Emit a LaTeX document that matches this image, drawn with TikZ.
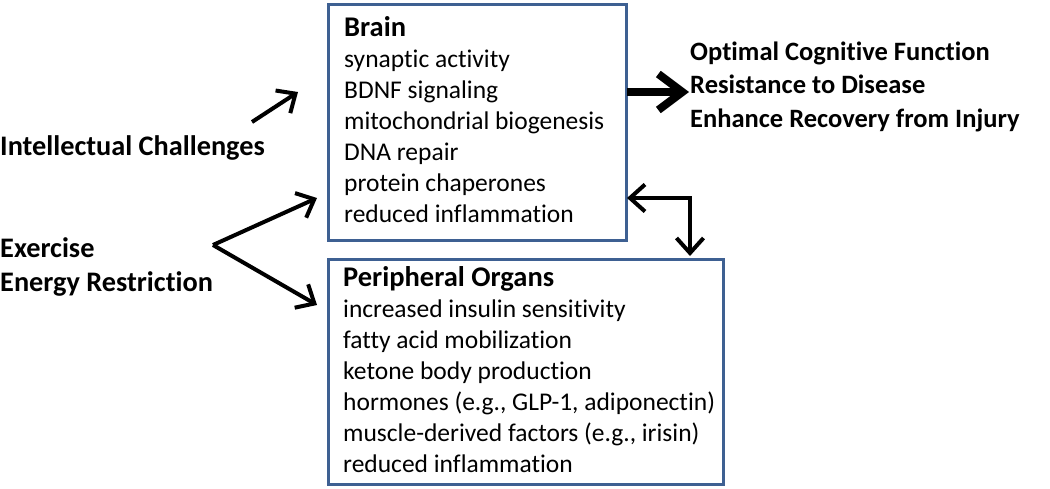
\documentclass[tikz,border=0pt]{standalone}
\usepackage{fontspec}
\setmainfont{Carlito}[Ligatures=NoCommon, RawFeature=-liga]
\usetikzlibrary{arrows.meta,positioning}
\definecolor{boxblue}{RGB}{62,96,146}

\begin{document}
\begin{tikzpicture}[x=1pt,y=-1pt,
  organbox/.style={draw=boxblue, line width=2.8pt, anchor=north west, inner sep=0pt},
  listtext/.style={anchor=base west, inner sep=0pt, align=left, font=\fontsize{25.5}{31}\selectfont},
  cuetext/.style={anchor=base west, inner sep=0pt, align=left, font=\fontsize{28.3}{33.5}\selectfont\bfseries},
  barb/.tip={Straight Barb[length=15pt,width=27pt]},
  thinarrow/.style={line width=4pt, -barb},
  thickarrow/.style={line width=8pt, -{Straight Barb[length=24pt,width=36pt]}}]
\useasboundingbox (0,0) rectangle (1050,488);

% the two boxes
\node[organbox, minimum width=298pt, minimum height=236pt] (brain) at (327,3) {};
\node[organbox, minimum width=395pt, minimum height=225pt] (periph) at (327,258) {};

% text lists (base = last line)
\node[listtext] (brainlist) at (344,222) {{\fontsize{28.5}{31}\selectfont\bfseries Brain}\\
synaptic activity\\
BDNF signaling\\
mitochondrial biogenesis\\
DNA repair\\
protein chaperones\\
reduced inflammation};

\node[listtext] (periphlist) at (343,472) {{\fontsize{28.5}{31}\selectfont\bfseries Peripheral Organs}\\
increased insulin sensitivity\\
fatty acid mobilization\\
ketone body production\\
hormones (e.g., GLP-1, adiponectin)\\
muscle-derived factors (e.g., irisin)\\
reduced inflammation};

% inputs on the left
\node[cuetext] (intel) at (0,155) {Intellectual Challenges};
\node[cuetext] (exer) at (0,291) {Exercise\\Energy Restriction};

% outcomes on the right
\node[cuetext, font=\fontsize{26.5}{33.5}\selectfont\bfseries] (outcome) at (690,127) {Optimal Cognitive Function\\
Resistance to Disease\\
Enhance Recovery from Injury};

% arrows
\coordinate (intelstart) at (252,122);
\coordinate (intelend) at (298,92);
\draw[thinarrow] (intelstart) -- (intelend);

\coordinate (fork) at (213,245);
\coordinate (forkup) at (317,198);
\coordinate (forkdown) at (317,305);
\draw[thinarrow] (fork) -- (forkup);
\draw[thinarrow] (fork) -- (forkdown);

\coordinate (outstart) at (627,92);
\coordinate (outend) at (689,92);
\draw[thickarrow] (outstart) -- (outend);

\coordinate (brainside) at (627,198);
\coordinate (periphtop) at (690,256);
\draw[thinarrow, barb-barb] (brainside) -| (periphtop);
\end{tikzpicture}
\end{document}
